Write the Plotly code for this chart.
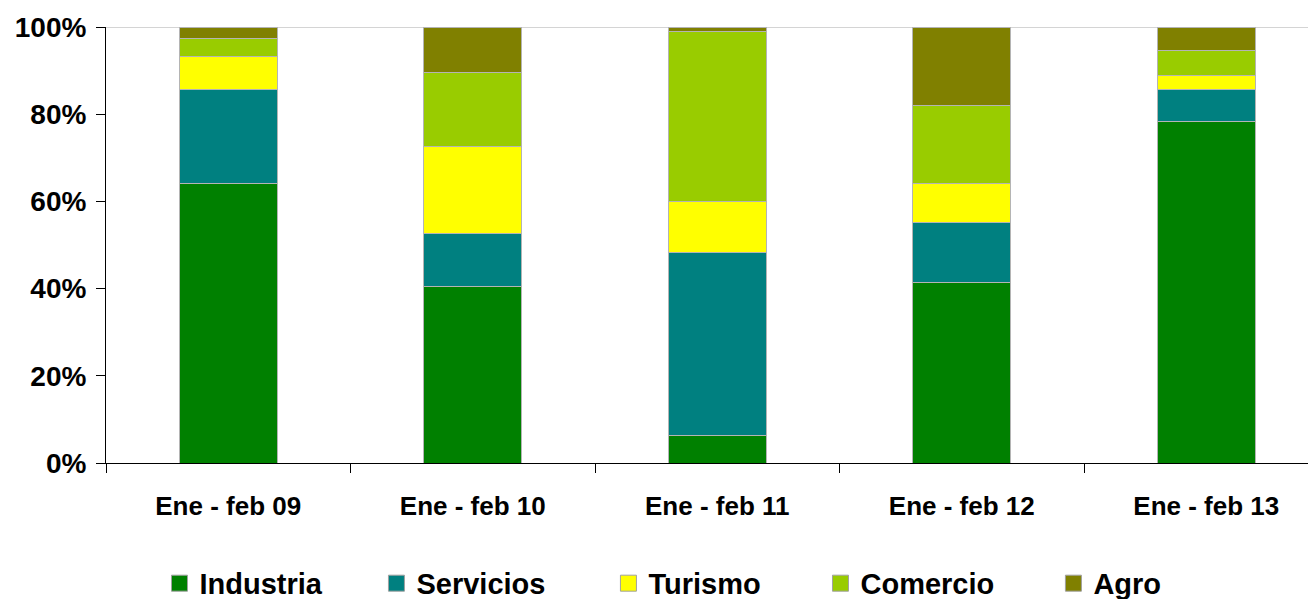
import plotly.graph_objects as go

categories = ["Ene - feb 09", "Ene - feb 10", "Ene - feb 11", "Ene - feb 12", "Ene - feb 13"]
industria = [64.2, 40.4, 6.2, 41.5, 78.4]
servicios = [21.5, 12.2, 42.1, 13.7, 7.3]
turismo = [7.5, 20.0, 11.6, 9.0, 3.2]
comercio = [4.1, 17.0, 39.1, 17.9, 5.8]
agro = [2.7, 10.4, 1.0, 17.9, 5.3]
y_ticks = [0, 20, 40, 60, 80, 100]
y_tick_labels = ["0%", "20%", "40%", "60%", "80%", "100%"]

series = [
    ("Industria", industria, "#008000"),
    ("Servicios", servicios, "#008080"),
    ("Turismo", turismo, "#FFFF00"),
    ("Comercio", comercio, "#99CC00"),
    ("Agro", agro, "#808000"),
]

FONT = "Liberation Sans, Arial, sans-serif"
legend_names = ["legend", "legend2", "legend3", "legend4", "legend5"]
legend_x = [0.0445, 0.2250, 0.4180, 0.5944, 0.7882]

fig = go.Figure()
for name, vals, color in series:
    fig.add_trace(go.Bar(
        x=categories, y=vals, name=name,
        marker=dict(color=color, line=dict(color="#b4b4b4", width=1)),
        showlegend=False, legendgroup=name,
    ))
for (name, vals, color), lg in zip(series, legend_names):
    fig.add_trace(go.Scatter(
        x=[categories[0]], y=[None], mode="markers", name=name, legendgroup=name, legend=lg,
        marker=dict(symbol="square", size=16, color=color, line=dict(color="#a0a0a0", width=1)),
        showlegend=True, hoverinfo="skip",
    ))

layout_legends = {}
for lg, lx in zip(legend_names, legend_x):
    layout_legends[lg] = dict(
        x=lx, xanchor="left", y=-0.276, yanchor="middle", orientation="h",
        font=dict(family=FONT, size=29, color="black", weight="bold"),
        bgcolor="rgba(0,0,0,0)", borderwidth=0, itemsizing="trace",
    )

fig.update_layout(
    width=1308, height=599,
    margin=dict(l=106, r=0, t=27, b=136, autoexpand=False),
    barmode="stack", bargap=0.6,
    plot_bgcolor="white", paper_bgcolor="white",
    font=dict(family=FONT, color="black"),
    **layout_legends,
)
fig.update_xaxes(
    type="category", range=[-0.5, 4.416], showline=True, linecolor="#000000", linewidth=1,
    ticks="outside", ticklen=9, tickcolor="#000000", tickson="boundaries",
    showgrid=False, zeroline=False, ticklabelstandoff=20,
    tickfont=dict(family=FONT, size=26, color="black", weight="bold"),
)
fig.update_yaxes(
    range=[0, 100], tickmode="array", tickvals=y_ticks, ticktext=y_tick_labels,
    showline=True, linecolor="#000000", linewidth=1,
    ticks="outside", ticklen=9, tickcolor="#000000", showgrid=False, zeroline=False,
    ticklabelstandoff=4,
    tickfont=dict(family=FONT, size=28, color="black", weight="bold"),
)
fig.add_shape(type="line", xref="paper", yref="y", x0=0, x1=1, y0=100, y1=100,
              line=dict(color="#d4d4d4", width=2), layer="below")

fig.write_html("out.html", config={"displayModeBar": False},
               post_script="document.body.style.margin='0';")
